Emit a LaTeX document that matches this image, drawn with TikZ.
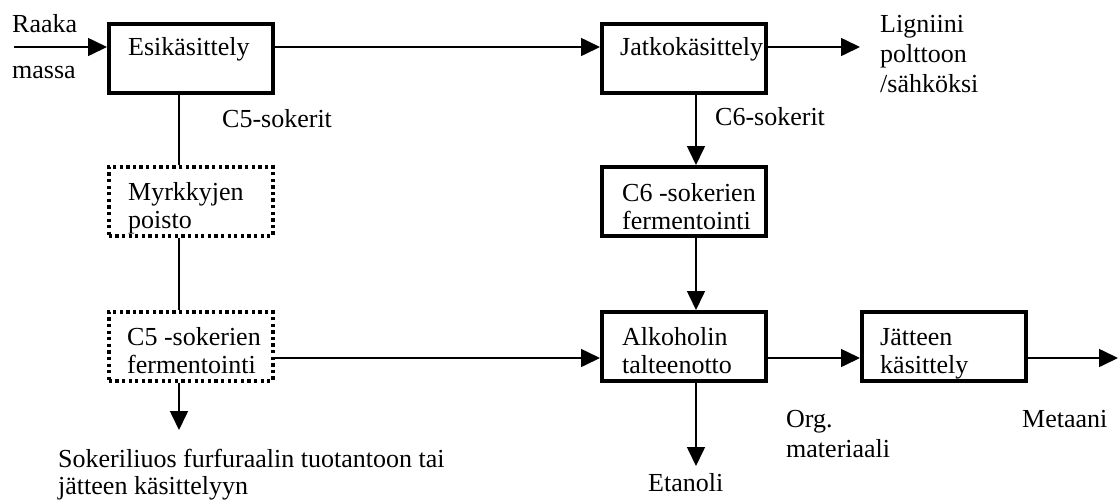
\documentclass[tikz,border=0pt]{standalone}
\usepackage{fontspec}
\setmainfont{Liberation Serif}
\usetikzlibrary{arrows.meta}
\begin{document}
\begin{tikzpicture}[x=1pt,y=-1pt,
  box/.style={draw, line width=3.5pt, minimum width=164pt, minimum height=69pt, inner sep=0pt, anchor=north west},
  dbox/.style={box, dash pattern=on 3.3pt off 3.3pt},
  lbl/.style={inner sep=0pt, anchor=base west, align=left, font=\fontsize{26}{28}\selectfont},
  line/.style={line width=1.6pt},
  arr/.style={line, -{Triangle[length=19pt,width=18pt]}}
]
\useasboundingbox (0,0) rectangle (1120,499);
% boxes
\node[box]  (esik)  at (107,22)  {};
\node[box]  (jatko) at (600,22)  {};
\node[dbox] (myrk)  at (107,165) {};
\node[box]  (c6)    at (600,165) {};
\node[dbox] (c5)    at (107,310) {};
\node[box]  (alk)   at (600,310) {};
\node[box]  (jatte) at (860,310) {};
% box texts (anchored at the baseline of the last line)
\node[lbl] (esikT)  at ([shift={(21,33)}]esik.north west)  {Esikäsittely};
\node[lbl] (jatkoT) at ([shift={(20,33)}]jatko.north west) {Jatkokäsittely};
\node[lbl] (myrkT)  at ([shift={(21,63)}]myrk.north west)  {Myrkkyjen\\poisto};
\node[lbl] (c6T)    at ([shift={(22,64)}]c6.north west)    {C6 -sokerien\\fermentointi};
\node[lbl] (c5T)    at ([shift={(20,63)}]c5.north west)    {C5 -sokerien\\fermentointi};
\node[lbl] (alkT)   at ([shift={(22,63)}]alk.north west)   {Alkoholin\\talteenotto};
\node[lbl] (jatteT) at ([shift={(20,63)}]jatte.north west) {Jätteen\\käsittely};
% free labels
\node[lbl] (raaka)   at (12,32)   {Raaka};
\node[lbl] (massa)   at (12,78)   {massa};
\node[lbl, font=\fontsize{26}{30}\selectfont] (lign) at (880,92) {Ligniini\\polttoon\\/sähköksi};
\node[lbl] (c5s)     at (222,127) {C5-sokerit};
\node[lbl] (c6s)     at (715,125) {C6-sokerit};
\node[lbl, font=\fontsize{26}{30}\selectfont] (org) at (786,457) {Org.\\materiaali};
\node[lbl] (metaani) at (1022,427) {Metaani};
\node[lbl] (etanoli) at (648,491) {Etanoli};
\node[lbl, font=\fontsize{26}{27}\selectfont] (sokeri) at (58,494) {Sokeriliuos furfuraalin tuotantoon tai\\jätteen käsittelyyn};
% helper coordinates
\coordinate (in)      at (14,47);
\coordinate (lignout) at (860,47);
\coordinate (colA)    at (179,0);
\coordinate (colB)    at (696,0);
\coordinate (rowC)    at (0,358);
\coordinate (sokout)  at (179,430);
\coordinate (metout)  at (1118,358);
\coordinate (etout)   at (696,466);
% connectors
\draw[arr]  (in) -- (in -| esik.west);
\draw[arr]  (esik.east |- in) -- (jatko.west |- in);
\draw[arr]  (jatko.east |- in) -- (lignout);
\draw[line] (esik.south -| colA) -- (myrk.north -| colA);
\draw[line] (myrk.south -| colA) -- (c5.north -| colA);
\draw[arr]  (c5.south -| colA) -- (sokout);
\draw[arr]  (c5.east |- rowC) -- (alk.west |- rowC);
\draw[arr]  (alk.east |- rowC) -- (jatte.west |- rowC);
\draw[arr]  (jatte.east |- rowC) -- (metout);
\draw[arr]  (jatko.south -| colB) -- (c6.north -| colB);
\draw[arr]  (c6.south -| colB) -- (alk.north -| colB);
\draw[arr]  (alk.south -| colB) -- (etout);
\end{tikzpicture}
\end{document}
